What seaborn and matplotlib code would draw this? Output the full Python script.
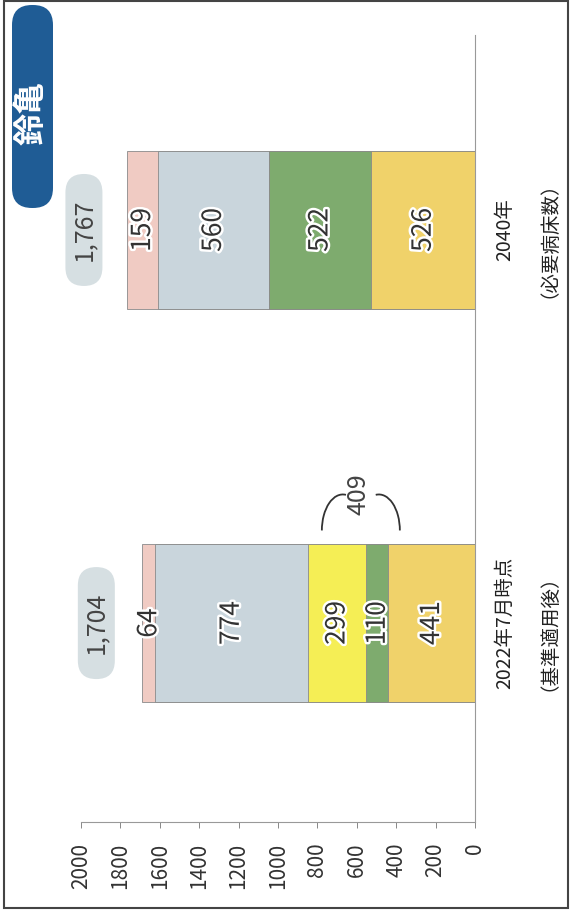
import numpy as np
import matplotlib.pyplot as plt
import matplotlib.transforms as mtransforms
import seaborn as sns
from matplotlib import patheffects
from matplotlib.patches import Arc, FancyBboxPatch, Rectangle

# データ（病床数）: ゼロ線側から外側へ積み上げ
periods = ["2040年", "2022年7月時点"]
period_notes = ["（必要病床数）", "（基準適用後）"]
beds_gold = [526, 441]
beds_green = [522, 110]
beds_yellow = [0, 299]
beds_blue = [560, 774]
beds_pink = [159, 64]
bed_totals = [1767, 1704]
value_ticks = [0, 200, 400, 600, 800, 1000, 1200, 1400, 1600, 1800, 2000]
region_name = "鈴亀"

layers = [beds_gold, beds_green, beds_yellow, beds_blue, beds_pink]
layer_colors = ["#f0d26a", "#7eab6e", "#f5ee55", "#c9d5dc", "#f0cbc3"]

sns.set_theme(style="white")
plt.rcParams['font.family'] = ['Noto Sans CJK JP', 'DejaVu Sans']

fig = plt.figure(figsize=(5.73, 9.11), dpi=100)
ax = fig.add_axes([0.1414, 0.0977, 0.6876, 0.8639])

values = np.array(layers)
cum = np.cumsum(values, axis=0)
starts = cum - values

# 外側の累積から順に重ね描き
for k in reversed(range(len(layers))):
    sns.barplot(x=cum[k], y=periods, orient="h", color=layer_colors[k], saturation=1,
                width=0.4, edgecolor="#8a8a8a", linewidth=0.6, errorbar=None, ax=ax)

ax.set_xlim(2000, 0)
ax.set_ylim(1.506, -0.496)
ax.set_xlabel("")
ax.set_ylabel("")
ax.set_yticks([])
ax.set_xticks(value_ticks)
ax.set_xticklabels([str(v) for v in value_ticks], rotation=90)
ax.tick_params(axis="x", bottom=True, length=4, width=0.7, color="#888888",
               labelsize=15, labelcolor="#333333", pad=11)
for side in ["left", "top"]:
    ax.spines[side].set_visible(False)
for side in ["right", "bottom"]:
    ax.spines[side].set_color("#999999")
    ax.spines[side].set_linewidth(0.8)

halo = [patheffects.withStroke(linewidth=3.5, foreground="white")]
fig.canvas.draw()
px = mtransforms.IdentityTransform()

for i in range(len(periods)):
    # 各区分の数値
    for k in range(len(layers)):
        v = values[k, i]
        if v <= 0:
            continue
        ax.text(starts[k, i] + v / 2, i, str(v), rotation=90, ha="center", va="center",
                fontsize=19, color="#333333", path_effects=halo)
    # 合計（ピル型ラベル）
    total = bed_totals[i]
    bx, by = ax.transData.transform((total, i))
    bx -= 43
    pill = FancyBboxPatch((bx - 18.5, by - 56), 37, 112,
                          boxstyle="round,pad=0,rounding_size=18.5", transform=px,
                          fc="#d6dfe2", ec="none", clip_on=False)
    ax.add_patch(pill)
    ax.annotate(f"{total:,}", xy=(total, i), xytext=(-43, 0), textcoords="offset pixels",
                rotation=90, ha="center", va="center", fontsize=18, color="#444444",
                annotation_clip=False)
    # カテゴリ名
    ax.annotate(periods[i], xy=(0, i), xytext=(30, 0), textcoords="offset pixels",
                rotation=90, ha="center", va="center", fontsize=14, color="#222222",
                annotation_clip=False)
    ax.annotate(period_notes[i], xy=(0, i), xytext=(64, 0), textcoords="offset pixels",
                rotation=90, ha="center", va="center", fontsize=14, color="#222222",
                annotation_clip=False)

# 回復期(黄)+緑の合計を括弧で表示
bracket_val = beds_yellow[1] + beds_green[1]
bracket_mid = beds_gold[1] + bracket_val / 2
cx, cy = ax.transData.transform((bracket_mid, 1 - 0.2))
cx += 13
cy += 14
for dx, t1, t2 in [(-18, 85, 180), (18, 0, 95)]:
    ax.add_patch(Arc((cx + dx, cy), 42, 72, theta1=t1, theta2=t2, transform=px,
                     color="#333333", lw=1.3, clip_on=False))
ax.annotate(str(bracket_val), xy=(bracket_mid, 1 - 0.2), xytext=(11, 50),
            textcoords="offset pixels", rotation=90, ha="center", va="center",
            fontsize=18, color="#444444")

# 地域名バッジ
badge = FancyBboxPatch((0.12, 7.03), 0.41, 2.03, boxstyle="round,pad=0,rounding_size=0.2",
                       transform=fig.dpi_scale_trans, fc="#1f5c95", ec="none")
fig.add_artist(badge)
fig.text(32 / 573, 1 - 113 / 911, region_name, rotation=90, ha="center", va="center",
         fontsize=23, fontweight="bold", color="white")

# 外枠
fig.add_artist(Rectangle((4 / 573, 3 / 911), 564 / 573, 907 / 911, transform=fig.transFigure,
                         fill=False, ec="#444444", lw=1.5))

fig.savefig("out.png", dpi=100)
